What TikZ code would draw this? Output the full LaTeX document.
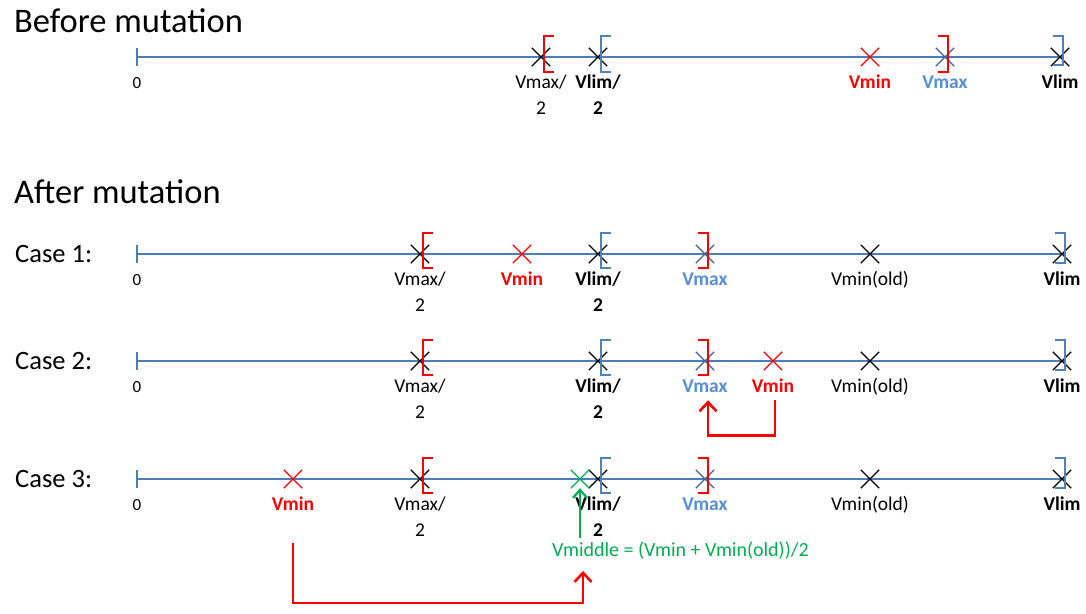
\documentclass[tikz,border=0pt]{standalone}
\usepackage{fontspec}
\setmainfont{Carlito}
\usetikzlibrary{arrows.meta,calc,positioning,shapes.misc}
\definecolor{axisBlue}{HTML}{4A7EBB}
\definecolor{brkBlue}{HTML}{4F81BD}
\definecolor{markBlue}{HTML}{41638F}
\definecolor{lblBlue}{HTML}{558ED5}
\definecolor{mutRed}{HTML}{FF0000}
\definecolor{midGreen}{HTML}{00B050}
% bracket next to a marker: #3 = 1 for [ and -1 for ], #4 = lower end
\newcommand{\brk}[4]{\draw[#2, line width=2.6pt] ($(#1)+(#3*10+3,-21)$) -- ($(#1)+(3,-21)$) -- ($(#1)+(3,#4)$) -- ($(#1)+(#3*10+3,#4)$);}

\begin{document}
\begin{tikzpicture}[x=1pt, y=-1pt,
    xmark/.style={draw, cross out, minimum size=17pt, inner sep=0pt, line width=1.3pt},
    lbl/.style={font=\fontsize{19.5}{22}\selectfont, inner sep=0pt, anchor=base},
    blbl/.style={lbl, font=\fontsize{19.5}{22}\selectfont\bfseries},
    head/.style={font=\fontsize{34.5}{38}\selectfont, inner sep=0pt, anchor=base west},
    case/.style={font=\fontsize{26.5}{30}\selectfont, inner sep=0pt, anchor=base west},
    axis/.style={draw=axisBlue, line width=1.2pt},
    flowred/.style={draw=mutRed, line width=2.6pt, -{Straight Barb[length=9pt, width=17pt]}},
    flowgreen/.style={draw=midGreen, line width=2.2pt, -{Straight Barb[length=8pt, width=14pt]}}]
  \useasboundingbox (0,0) rectangle (1086,613);

  \node[head] (tbefore) at (14,32) {Before mutation};
  \node[head] (tafter) at (14,203) {After mutation};
  \node[case] (ca-name) at (15,262) {Case 1:};
  \node[case] (cb-name) at (15,369) {Case 2:};
  \node[case] (cc-name) at (15,487) {Case 3:};

  % number lines
  \foreach \r/\y in {b/57,ca/254,cb/361,cc/479} {
    \coordinate (\r-o) at (137,\y);
    \draw[axis] (\r-o) -- (1064,\y);
    \draw[axis] (137,\y-9) -- (137,\y+9);
    \node[lbl, font=\fontsize{17}{20}\selectfont] (\r-zero) at ($(\r-o)+(0,31)$) {0};
  }

  % before mutation
  \node[xmark] (b-vmaxh) at (541,57) {};
  \node[xmark] (b-vlimh) at (598,57) {};
  \node[xmark, draw=mutRed] (b-vmin) at (870,57) {};
  \node[xmark, draw=markBlue] (b-vmax) at (945,57) {};
  \node[xmark] (b-vlim) at (1060,57) {};
  \brk{b-vmaxh}{mutRed}{1}{15}
  \brk{b-vlimh}{brkBlue}{1}{15}
  \brk{b-vmax}{mutRed}{-1}{15}
  \brk{b-vlim}{brkBlue}{-1}{8}
  \node[lbl] (b-lvmaxh) at ($(b-vmaxh)+(0,31)$) {Vmax/};
  \node[lbl] (b-lvmaxh2) at ($(b-vmaxh)+(0,57)$) {2};
  \node[blbl] (b-lvlimh) at ($(b-vlimh)+(0,31)$) {Vlim/};
  \node[blbl] (b-lvlimh2) at ($(b-vlimh)+(0,57)$) {2};
  \node[blbl, mutRed] (b-lvmin) at ($(b-vmin)+(0,31)$) {Vmin};
  \node[blbl, lblBlue] (b-lvmax) at ($(b-vmax)+(0,31)$) {Vmax};
  \node[blbl] (b-lvlim) at ($(b-vlim)+(0,31)$) {Vlim};

  % after mutation, markers shared by the three cases
  \foreach \r/\y in {ca/254,cb/361,cc/479} {
    \node[xmark] (\r-vmaxh) at (420,\y) {};
    \node[xmark] (\r-vlimh) at (598,\y) {};
    \node[xmark, draw=markBlue] (\r-vmax) at (705,\y) {};
    \node[xmark] (\r-vold) at (870,\y) {};
    \node[xmark] (\r-vlim) at (1062,\y) {};
    \brk{\r-vmaxh}{mutRed}{1}{14}
    \brk{\r-vlimh}{brkBlue}{1}{14}
    \brk{\r-vmax}{mutRed}{-1}{14}
    \brk{\r-vlim}{brkBlue}{-1}{9}
    \node[lbl] (\r-lvmaxh) at ($(\r-vmaxh)+(0,31)$) {Vmax/};
    \node[lbl] (\r-lvmaxh2) at ($(\r-vmaxh)+(0,57)$) {2};
    \node[blbl] (\r-lvlimh) at ($(\r-vlimh)+(0,31)$) {Vlim/};
    \node[blbl] (\r-lvlimh2) at ($(\r-vlimh)+(0,57)$) {2};
    \node[blbl, lblBlue] (\r-lvmax) at ($(\r-vmax)+(0,31)$) {Vmax};
    \node[lbl] (\r-lvold) at ($(\r-vold)+(0,31)$) {Vmin(old)};
    \node[blbl] (\r-lvlim) at ($(\r-vlim)+(0,31)$) {Vlim};
  }

  % case 1
  \node[xmark, draw=mutRed] (ca-vmin) at (522,254) {};
  \node[blbl, mutRed] (ca-lvmin) at ($(ca-vmin)+(0,31)$) {Vmin};

  % case 2
  \node[xmark, draw=mutRed] (cb-vmin) at (773,361) {};
  \node[blbl, mutRed] (cb-lvmin) at ($(cb-vmin)+(0,31)$) {Vmin};
  \draw[flowred] ($(cb-lvmin.south)+(2,8)$) -- ++(0,35) -| ($(cb-lvmax.south)+(3,8)$);

  % case 3
  \node[xmark, draw=mutRed] (cc-vmin) at (293,479) {};
  \node[blbl, mutRed] (cc-lvmin) at ($(cc-vmin)+(0,31)$) {Vmin};
  \node[xmark, draw=midGreen] (cc-vmid) at (580,479) {};
  \node[lbl, anchor=base west, font=\fontsize{20}{22}\selectfont, midGreen] (cc-lvmid) at (552,556) {Vmiddle = (Vmin + Vmin(old))/2};
  \draw[flowgreen] ($(cc-vmid |- cc-lvmid.north)+(0,-3)$) -- (cc-vmid.south);
  \coordinate (cc-low) at (293,603);
  \draw[flowred] ($(cc-lvmin.south)+(0,33)$) -- (cc-low) -| ($(cc-vmid |- cc-lvmid.south)+(3,12)$);
\end{tikzpicture}
\end{document}
